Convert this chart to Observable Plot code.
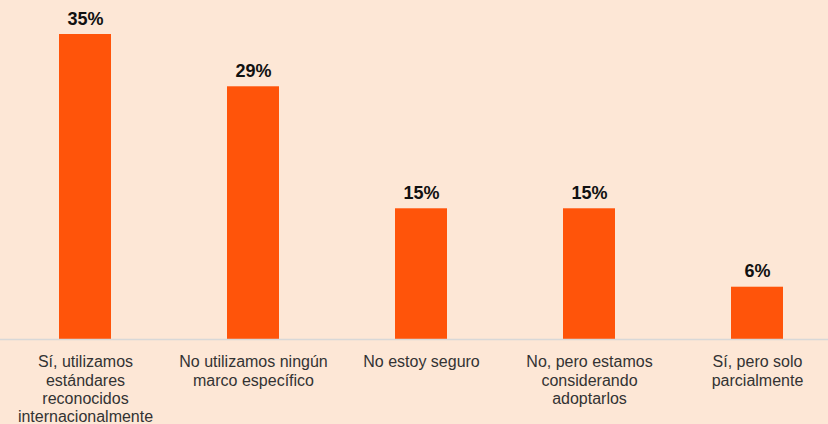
<!DOCTYPE html>
<html>
<head>
<meta charset="utf-8">
<script src="https://cdn.jsdelivr.net/npm/d3@7"></script>
<script src="https://cdn.jsdelivr.net/npm/@observablehq/plot@0.6"></script>
<style>
  html, body { margin: 0; padding: 0; background: #FDE7D6; overflow: hidden; }
  #chart { width: 828px; height: 424px; overflow: hidden; }
  svg { font-family: "Liberation Sans", Arial, sans-serif; }
</style>
</head>
<body>
<div id="chart"></div>
<script>
const categories = [
  "Sí, utilizamos\nestándares\nreconocidos\ninternacionalmente",
  "No utilizamos ningún\nmarco específico",
  "No estoy seguro",
  "No, pero estamos\nconsiderando\nadoptarlos",
  "Sí, pero solo\nparcialmente"
];
const values = [35, 29, 15, 15, 6];
const valueLabels = ["35%", "29%", "15%", "15%", "6%"];

const data = categories.map((c, i) => ({category: c, value: values[i], label: valueLabels[i]}));

const chart = Plot.plot({
  width: 828,
  height: 424,
  marginTop: 0,
  marginLeft: 0,
  marginRight: 0,
  marginBottom: 85,
  style: {background: "#FDE7D6", fontFamily: "'Liberation Sans', Arial, sans-serif", overflow: "visible"},
  x: {domain: categories, range: [0, 843], paddingInner: 0.69, paddingOuter: 0.345, label: null},
  y: {domain: [0, 35], range: [339, 34], axis: null},
  marks: [
    Plot.barY(data, {x: "category", y: "value", fill: "#FF540A"}),
    Plot.ruleY([0], {stroke: "#D8D8D8", strokeWidth: 1.5}),
    Plot.text(data, {x: "category", y: "value", text: "label", lineAnchor: "bottom", dy: -10, fontSize: 18, fontWeight: "bold", fill: "#111"}),
    Plot.axisX({tickSize: 0, tickPadding: 15, fontSize: 16, lineHeight: 1.14, fill: "#333", label: null})
  ]
});
document.getElementById("chart").appendChild(chart);
</script>
</body>
</html>
